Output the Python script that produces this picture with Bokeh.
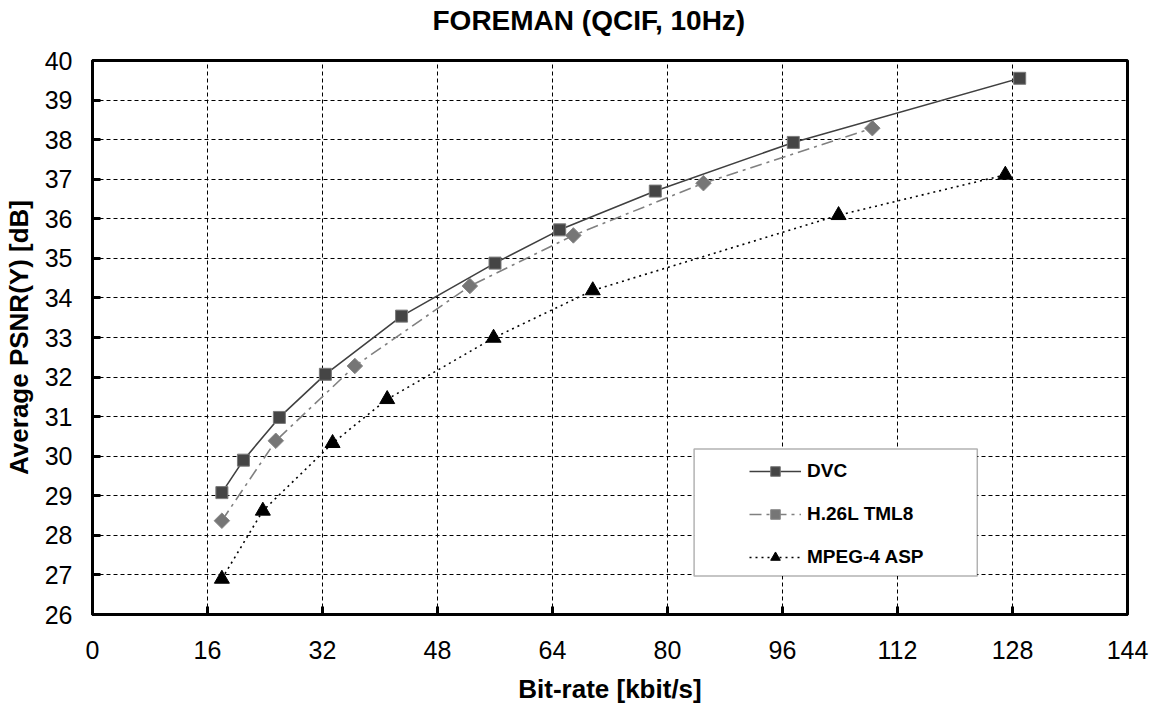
import math
from bokeh.plotting import figure
from bokeh.embed import file_html
from bokeh.resources import INLINE
from bokeh.models import Legend, LegendItem, BoxAnnotation, FixedTicker, Title

# ---- data ----
dvc_x = [18, 21, 26, 32.4, 43, 56, 65, 78.3, 97.5, 129]
dvc_y = [29.08, 29.9, 30.98, 32.07, 33.54, 34.88, 35.72, 36.7, 37.93, 39.55]
h26l_x = [18, 25.5, 36.5, 52.5, 66.9, 85, 108.5]
h26l_y = [28.37, 30.39, 32.28, 34.3, 35.58, 36.9, 38.29]
mpeg_x = [18, 23.7, 33.4, 41, 55.8, 69.6, 103.8, 127]
mpeg_y = [26.9, 28.62, 30.33, 31.44, 32.99, 34.19, 36.09, 37.11]
x_ticks = [0, 16, 32, 48, 64, 80, 96, 112, 128, 144]
y_ticks = list(range(26, 41))
series_names = ["DVC", "H.26L TML8", "MPEG-4 ASP"]
title_text = "FOREMAN (QCIF, 10Hz)"

FONT = "Liberation Sans"

p = figure(
    width=1158, height=706,
    min_border_left=91, min_border_right=31, min_border_top=59, min_border_bottom=92,
    x_range=(0, 144), y_range=(26, 40),
    output_backend="svg", toolbar_location=None,
    title=title_text,
)
p.title.align = "left"
p.title.offset = 340
p.title.standoff = 4
p.title.text_font = FONT
p.title.text_font_style = "bold"
p.title.text_font_size = "28px"
p.title.text_color = "black"

# spacer between title and frame
p.add_layout(Title(text=" ", text_font_size="15px", standoff=4), "above")

p.outline_line_color = "black"
p.outline_line_width = 3
p.outline_line_alpha = 1

for ax in (p.xaxis[0], p.yaxis[0]):
    ax.axis_line_width = 3
    ax.axis_line_color = "black"
    ax.major_tick_in = 8
    ax.major_tick_out = 0
    ax.major_tick_line_width = 3
    ax.major_tick_line_color = "black"
    ax.minor_tick_line_color = None
    ax.major_label_text_font = FONT
    ax.major_label_text_font_size = "25px"
    ax.major_label_text_color = "black"
    ax.axis_label_text_font = FONT
    ax.axis_label_text_font_style = "bold"
    ax.axis_label_text_font_size = "26px"
    ax.axis_label_text_color = "black"

p.xaxis.ticker = FixedTicker(ticks=x_ticks)
p.yaxis.ticker = FixedTicker(ticks=y_ticks)
p.xaxis.axis_label = "Bit-rate [kbit/s]"
p.yaxis.axis_label = "Average PSNR(Y) [dB]"
p.xaxis.major_label_standoff = 26
p.yaxis.major_label_standoff = 20
p.xaxis.axis_label_standoff = 12
p.yaxis.axis_label_standoff = 8

for g in (p.xgrid[0], p.ygrid[0]):
    g.grid_line_color = "black"
    g.grid_line_dash = "4 3"
    g.grid_line_width = 1

# ---- series ----
l1 = p.line(dvc_x, dvc_y, line_color="#404040", line_width=1.6)
m1 = p.scatter(dvc_x, dvc_y, marker="square", size=12, fill_color="#454545",
               line_color="#7a7a7a", line_width=1)
l2 = p.line(h26l_x, h26l_y, line_color="#808080", line_width=1.6, line_dash="12 5 3 5")
m2 = p.scatter(h26l_x, h26l_y, marker="square", angle=math.pi / 4, size=11,
               fill_color="#767676", line_color="#8a8a8a", line_width=1)
l3 = p.line(mpeg_x, mpeg_y, line_color="black", line_width=1.6, line_dash="2 4")
m3 = p.scatter(mpeg_x, mpeg_y, marker="triangle", size=15, fill_color="black", line_color="black")

# legend box
box = BoxAnnotation(left=83.7, right=123.1, bottom=26.97, top=30.18,
                    fill_color="white", fill_alpha=1, line_color="black", line_width=1.5)
p.add_layout(box)

legend = Legend(
    items=[LegendItem(label=series_names[0], renderers=[l1, m1]),
           LegendItem(label=series_names[1], renderers=[l2, m2]),
           LegendItem(label=series_names[2], renderers=[l3, m3])],
    location=(657, 45),
    padding=0, margin=0, spacing=19,
    glyph_width=52, glyph_height=24, label_height=24,
    label_standoff=6,
    border_line_color=None, background_fill_alpha=0,
    label_text_font=FONT, label_text_font_style="bold",
    label_text_font_size="19px", label_text_color="black",
)
p.add_layout(legend, "center")

open("out.html", "w").write(file_html(p, INLINE))
